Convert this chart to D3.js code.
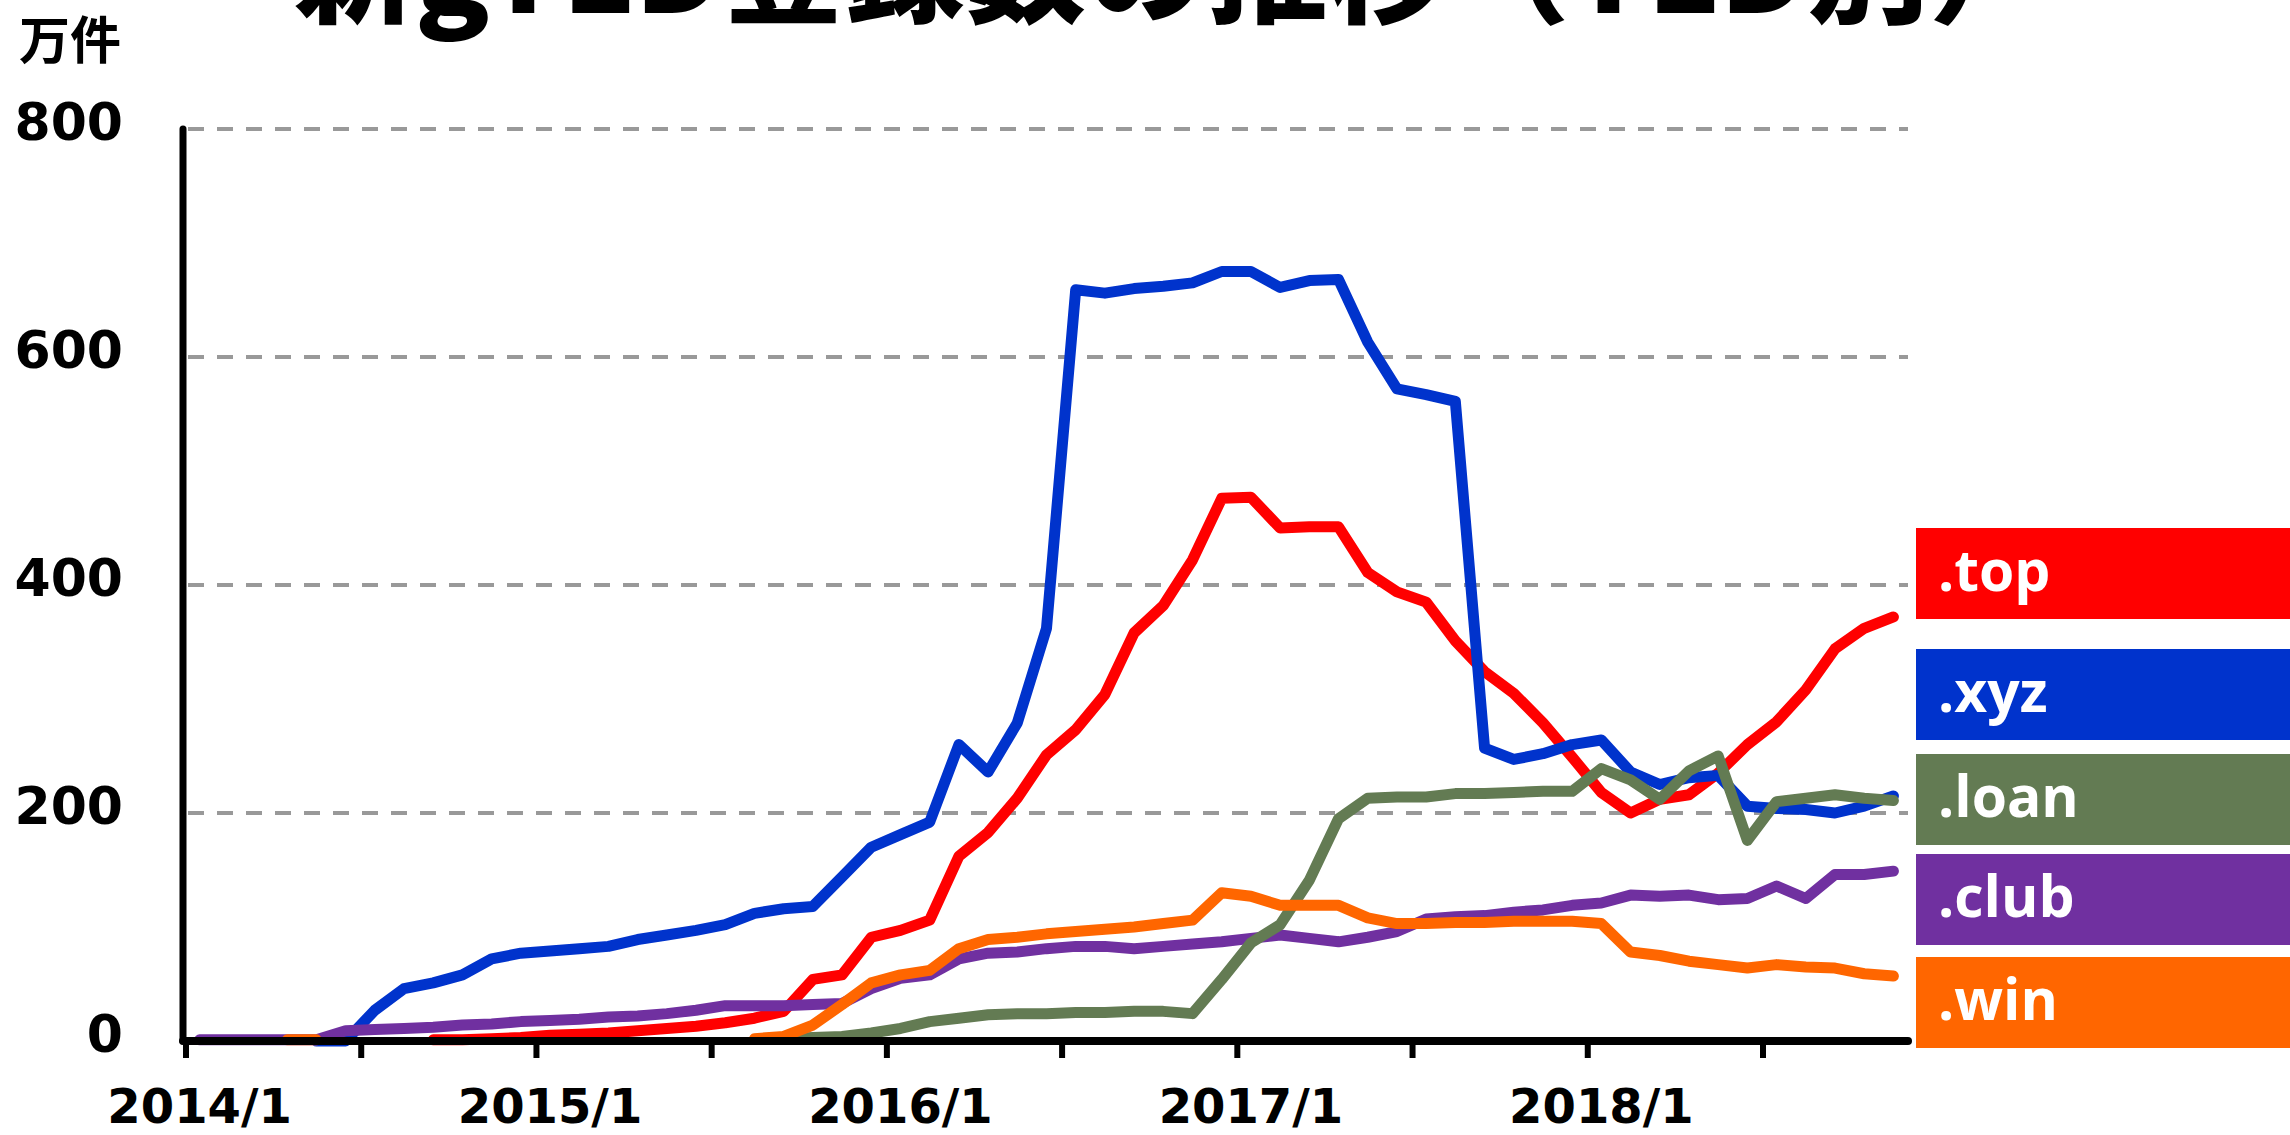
<!DOCTYPE html>
<html lang="ja">
<head>
<meta charset="utf-8">
<title>新gTLD登録数の推移（TLD別）</title>
<script src="https://cdn.jsdelivr.net/npm/d3@7"></script>
<style>
    html, body { margin: 0; padding: 0; background: #FFFFFF; overflow: hidden; }
    #chart svg { display: block; }
</style>
</head>
<body>
<div id="chart"></div>
<script>
// months 2014/1 .. 2018/11
const months = [
    '2014/1', '2014/2', '2014/3', '2014/4', '2014/5', '2014/6', '2014/7', '2014/8', '2014/9', '2014/10', '2014/11', '2014/12',
    '2015/1', '2015/2', '2015/3', '2015/4', '2015/5', '2015/6', '2015/7', '2015/8', '2015/9', '2015/10', '2015/11', '2015/12',
    '2016/1', '2016/2', '2016/3', '2016/4', '2016/5', '2016/6', '2016/7', '2016/8', '2016/9', '2016/10', '2016/11', '2016/12',
    '2017/1', '2017/2', '2017/3', '2017/4', '2017/5', '2017/6', '2017/7', '2017/8', '2017/9', '2017/10', '2017/11', '2017/12',
    '2018/1', '2018/2', '2018/3', '2018/4', '2018/5', '2018/6', '2018/7', '2018/8', '2018/9', '2018/10', '2018/11'
];

const xLabels = ['2014/1', '2015/1', '2016/1', '2017/1', '2018/1'];
const yTicks = [0, 200, 400, 600, 800];

// 万件, null = no registrations reported yet
const topValues = [
    null, null, null, null, null, null, null, null, 1, 1, 2, 3,
    5, 6, 7, 9, 11, 13, 16, 20, 26, 54, 58, 91,
    97, 106, 162, 183, 213, 251, 273, 304, 358, 382, 422, 476,
    477, 450, 451, 451, 411, 394, 385, 351, 324, 305, 279, 249,
    218, 200, 212, 216, 235, 260, 280, 308, 344, 362, 372
];
const xyzValues = [
    null, null, null, null, 0, 0, 27, 46, 51, 58, 72, 77,
    79, 81, 83, 89, 93, 97, 102, 112, 116, 118, 144, 170,
    181, 192, 260, 236, 279, 362, 659, 656, 660, 662, 665, 675,
    675, 661, 667, 668, 613, 572, 567, 561, 257, 247, 252, 260,
    264, 236, 225, 231, 233, 206, 204, 203, 200, 206, 215
];
const loanValues = [
    null, null, null, null, null, null, null, null, null, null, null, null,
    null, null, null, null, null, null, null, null, 2, 3, 4, 7,
    11, 17, 20, 23, 24, 24, 25, 25, 26, 26, 24, 54,
    86, 102, 141, 195, 213, 214, 214, 217, 217, 218, 219, 219,
    239, 229, 212, 237, 250, 176, 210, 213, 216, 213, 211
];
const clubValues = [
    1, 1, 1, 1, 1, 9, 10, 11, 12, 14, 15, 17,
    18, 19, 21, 22, 24, 27, 31, 31, 31, 32, 33, 46,
    55, 58, 72, 77, 78, 81, 83, 83, 81, 83, 85, 87,
    90, 93, 90, 87, 91, 96, 107, 109, 110, 113, 115, 119,
    121, 128, 127, 128, 124, 125, 136, 125, 146, 146, 149
];
const winValues = [
    null, null, null, 1, 1, null, null, null, null, null, null, null,
    null, null, null, null, null, null, null, 2, 4, 14, 32, 51,
    58, 62, 81, 89, 91, 94, 96, 98, 100, 103, 106, 130,
    127, 119, 119, 119, 108, 103, 103, 104, 104, 105, 105, 105,
    103, 78, 75, 70, 67, 64, 67, 65, 64, 59, 57
];

// legend order (top to bottom) and drawing order (later = on top)
const legendNames = ['.top', '.xyz', '.loan', '.club', '.win'];
const legendColors = ['#FF0000', '#0033CC', '#637B53', '#7030A0', '#FF6600'];
const legendTops = [528, 649, 754, 854, 957];

const seriesList = [
    { name: '.top', values: topValues, color: '#FF0000' },
    { name: '.xyz', values: xyzValues, color: '#0033CC' },
    { name: '.club', values: clubValues, color: '#7030A0' },
    { name: '.loan', values: loanValues, color: '#637B53' },
    { name: '.win', values: winValues, color: '#FF6600' }
];

function drawChart() {
    const width = 2290;
    const height = 1135;
    const plot = { left: 185, right: 1908, top: 129, bottom: 1041 };

    const svg = d3.select('#chart')
        .append('svg')
        .attr('width', width)
        .attr('height', height);

    const x = d3.scaleBand()
        .domain(months)
        .range([plot.left, plot.right])
        .padding(0);
    const xc = m => x(m) + x.bandwidth() / 2;

    const y = d3.scaleLinear()
        .domain([0, 800])
        .range([plot.bottom, plot.top]);

    // title, mostly cut off above the frame
    svg.append('text')
        .attr('x', 1172)
        .attr('y', 13)
        .attr('text-anchor', 'middle')
        .attr('font-family', '"Noto Sans CJK JP", sans-serif')
        .attr('font-weight', 900)
        .attr('font-size', 121)
        .attr('fill', '#000000')
        .text('新gTLD登録数の推移（TLD別）');

    svg.append('text')
        .attr('x', 19)
        .attr('y', 59)
        .attr('font-family', '"Noto Sans CJK JP", sans-serif')
        .attr('font-weight', 'bold')
        .attr('font-size', 51)
        .attr('fill', '#000000')
        .text('万件');

    // dashed gridlines
    svg.append('g')
        .selectAll('line')
        .data(yTicks.filter(v => v > 0))
        .enter().append('line')
        .attr('x1', plot.left + 3)
        .attr('x2', plot.right)
        .attr('y1', d => y(d))
        .attr('y2', d => y(d))
        .attr('stroke', '#999999')
        .attr('stroke-width', 4)
        .attr('stroke-dasharray', '16 13');

    // y labels
    svg.append('g')
        .selectAll('text')
        .data(yTicks)
        .enter().append('text')
        .attr('x', 123)
        .attr('y', d => y(d) + 11)
        .attr('text-anchor', 'end')
        .attr('font-family', '"DejaVu Sans", sans-serif')
        .attr('font-weight', 'bold')
        .attr('font-size', 52)
        .attr('fill', '#000000')
        .text(d => d);

    // series
    const line = d3.line()
        .defined(d => d.v !== null)
        .x(d => xc(d.m))
        .y(d => y(d.v));

    svg.append('g')
        .attr('class', 'series')
        .selectAll('path')
        .data(seriesList)
        .enter().append('path')
        .attr('d', s => line(s.values.map((v, i) => ({ m: months[i], v }))))
        .attr('fill', 'none')
        .attr('stroke', s => s.color)
        .attr('stroke-width', 11)
        .attr('stroke-linejoin', 'round')
        .attr('stroke-linecap', 'round');

    // axes
    svg.append('line')
        .attr('x1', 183).attr('x2', 183)
        .attr('y1', plot.top).attr('y2', plot.bottom)
        .attr('stroke', '#000000')
        .attr('stroke-width', 7)
        .attr('stroke-linecap', 'round');

    const tickMonths = months.filter((m, i) => i % 6 === 0);
    svg.append('g')
        .selectAll('line')
        .data(tickMonths)
        .enter().append('line')
        .attr('x1', d => x(d) + 1)
        .attr('x2', d => x(d) + 1)
        .attr('y1', plot.bottom)
        .attr('y2', plot.bottom + 17)
        .attr('stroke', '#000000')
        .attr('stroke-width', 6);

    svg.append('line')
        .attr('x1', 183).attr('x2', plot.right)
        .attr('y1', plot.bottom).attr('y2', plot.bottom)
        .attr('stroke', '#000000')
        .attr('stroke-width', 8)
        .attr('stroke-linecap', 'round');

    svg.append('g')
        .selectAll('text')
        .data(xLabels)
        .enter().append('text')
        .attr('x', d => xc(d))
        .attr('y', 1123)
        .attr('text-anchor', 'middle')
        .attr('font-family', '"DejaVu Sans", sans-serif')
        .attr('font-weight', 'bold')
        .attr('font-size', 48)
        .attr('fill', '#000000')
        .text(d => d);

    // legend boxes on the right
    const legend = svg.append('g')
        .selectAll('g')
        .data(legendNames)
        .enter().append('g')
        .attr('transform', (d, i) => `translate(1916,${legendTops[i]})`);

    legend.append('rect')
        .attr('width', 380)
        .attr('height', 91)
        .attr('fill', (d, i) => legendColors[i]);

    legend.append('text')
        .attr('x', 22)
        .attr('y', 63)
        .attr('font-family', '"Open Sans", sans-serif')
        .attr('font-weight', 'bold')
        .attr('font-size', 57)
        .attr('fill', '#FFFFFF')
        .text(d => d);
}

drawChart();
</script>
</body>
</html>
